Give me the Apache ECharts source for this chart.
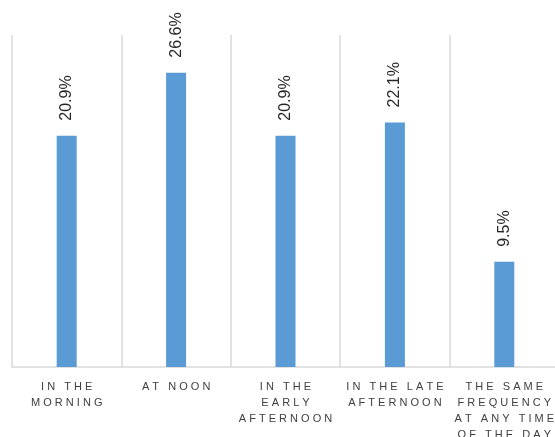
<!DOCTYPE html>
<html>
<head>
<meta charset="utf-8">
<script src="https://cdn.jsdelivr.net/npm/echarts@6/dist/echarts.min.js"></script>
<style>
html, body { margin: 0; padding: 0; background: #fff; }
#chart { width: 555px; height: 437px; }
</style>
</head>
<body>
<div id="chart"></div>
<script>
var categories = ['IN THE\nMORNING', 'AT NOON', 'IN THE\nEARLY\nAFTERNOON', 'IN THE LATE\nAFTERNOON', 'THE SAME\nFREQUENCY\nAT ANY TIME\nOF THE DAY'];
var shares = [20.9, 26.6, 20.9, 22.1, 9.5];

// wide letter spacing, like the original axis labels
function spaced(txt) {
    return txt.split('\n').map(function (line) {
        return line.split(' ').map(function (w) {
            return w.split('').join(' ');
        }).join('   ');
    }).join('\n');
}

var chart = echarts.init(document.getElementById('chart'));
chart.setOption({
    animation: false,
    grid: { left: 12, top: 35, width: 547, height: 332, outerBoundsMode: 'none', containLabel: false },
    xAxis: {
        type: 'category',
        data: categories,
        axisLine: { lineStyle: { color: '#d9d9d9', width: 1.5 } },
        axisTick: { show: false },
        splitLine: { show: true, lineStyle: { color: '#d9d9d9', width: 1.5 } },
        axisLabel: {
            interval: 0,
            margin: 12,
            color: '#404040',
            fontFamily: 'Liberation Sans',
            fontSize: 11,
            lineHeight: 16,
            hideOverlap: false,
            formatter: spaced
        }
    },
    yAxis: {
        type: 'value',
        min: 0,
        max: 30,
        show: false,
        splitLine: { show: false }
    },
    series: [{
        type: 'bar',
        data: shares,
        barWidth: 20,
        itemStyle: { color: '#5b9bd5' },
        label: {
            show: true,
            position: 'top',
            rotate: 90,
            align: 'left',
            verticalAlign: 'middle',
            distance: 15,
            color: '#262626',
            fontFamily: 'Liberation Sans',
            fontSize: 16,
            formatter: '{c}%'
        }
    }]
});
</script>
</body>
</html>
